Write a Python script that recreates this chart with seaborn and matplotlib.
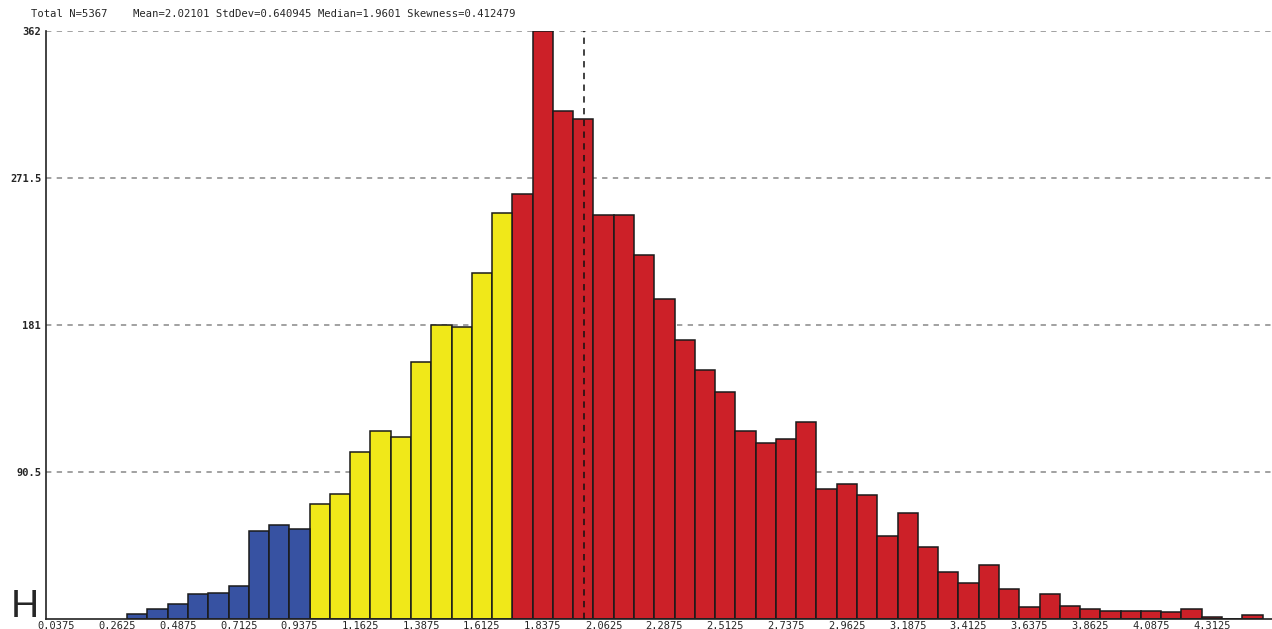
import numpy as np
import pandas as pd
import matplotlib
matplotlib.use("Agg")
import matplotlib.pyplot as plt
import seaborn as sns

# histogram counts, one per bin of width 0.075 starting at 0.3
first_edge = 0.3
bin_width = 0.075
counts = [3, 6, 9, 15, 16, 20, 54, 58, 55,
          71, 77, 103, 116, 112, 158, 181, 180, 213, 250,
          262, 362, 313, 308, 249, 249, 224, 197, 172, 153,
          140, 116, 108, 111, 121, 80, 83, 76, 51, 65,
          44, 29, 22, 33, 18, 7, 15, 8, 6, 5,
          5, 5, 4, 6, 1, 0, 2]
band_breaks = [0.975, 1.725]
band_names = ["low", "mid", "high"]
band_colors = ["#3752A2", "#F0E819", "#CC2028"]

x_ticks = [0.0375, 0.2625, 0.4875, 0.7125, 0.9375, 1.1625, 1.3875, 1.6125, 1.8375, 2.0625,
           2.2875, 2.5125, 2.7375, 2.9625, 3.1875, 3.4125, 3.6375, 3.8625, 4.0875, 4.3125]
y_ticks = [90.5, 181, 271.5, 362]
y_tick_labels = ["90.5", "181", "271.5", "362"]
marker_x = 1.99

total_n = 5367
mean_v = "2.02101"
std_v = "0.640945"
median_v = "1.9601"
skew_v = "0.412479"
panel_label = "H"

n_bins = len(counts)
last_edge = first_edge + bin_width * n_bins
centers = first_edge + bin_width * (np.arange(n_bins) + 0.5)
bands = np.array(band_names)[np.digitize(centers, band_breaks)]
df = pd.DataFrame({"center": centers, "count": counts, "band": bands})

sns.set_style("white")
mono = "DejaVu Sans Mono"

fig = plt.figure(figsize=(12.72, 6.29), dpi=100)
ax = fig.add_axes([0.0362, 0.0164, 0.9638, 0.9336])

ax.yaxis.grid(True, color="#888888", linestyle=(0, (3.5, 3.5)), linewidth=1.1)
ax.set_axisbelow(True)

sns.histplot(data=df, x="center", weights="count", hue="band", hue_order=band_names,
             palette=band_colors, binwidth=bin_width, binrange=(first_edge, last_edge),
             multiple="layer", alpha=1, edgecolor="#1a1a1a", linewidth=1.1,
             legend=False, ax=ax)

ax.axvline(marker_x, ymin=0, ymax=1, color="#111111", linestyle=(0, (3.5, 3)),
           linewidth=1.3, alpha=0.85, zorder=5)

ax.set_xlim(0, 4.535)
ax.set_ylim(0, 362)
ax.set_xticks(x_ticks)
ax.set_xticklabels([f"{t:.4f}" for t in x_ticks], fontsize=7.5, family=mono)
ax.set_yticks(y_ticks)
ax.set_yticklabels(y_tick_labels, fontsize=7.5, family=mono, fontweight="bold")
ax.tick_params(axis="x", direction="in", length=3.5, width=1, pad=2, color="#222222")
ax.tick_params(axis="y", direction="out", length=2, width=1, pad=1.5, color="#222222")
ax.set_xlabel("")
ax.set_ylabel("")

for side in ["top", "right"]:
    ax.spines[side].set_visible(False)
for side in ["left", "bottom"]:
    ax.spines[side].set_color("#222222")
    ax.spines[side].set_linewidth(1.2)

header = (f"Total N={total_n}    Mean={mean_v} StdDev={std_v} "
          f"Median={median_v} Skewness={skew_v}")
fig.text(31 / 1272, 1 - 14 / 629, header, fontsize=7.6, family=mono, va="center", ha="left")
fig.text(11 / 1272, 12 / 629, panel_label, fontsize=28, family="Liberation Sans",
         va="baseline", ha="left")

fig.savefig("out.png", dpi=100)
